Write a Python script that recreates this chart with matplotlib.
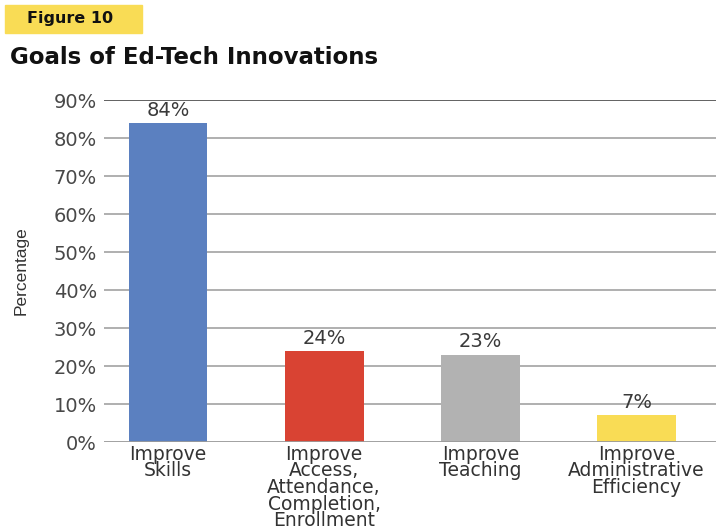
import numpy as np
import matplotlib.pyplot as plt
from matplotlib import rcParams
import matplotlib.patches as mpatches

rcParams['font.family'] = ['DejaVu Sans']

categories = ['Improve\nSkills', 'Improve\nAccess,\nAttendance,\nCompletion,\nEnrollment',
              'Improve\nTeaching', 'Improve\nAdministrative\nEfficiency']
values = [84, 24, 23, 7]
colors = ['#5B80C0', '#D94333', '#B2B2B2', '#F9DC55']
yticks = np.arange(0, 100, 10)

fig = plt.figure(figsize=(7.16, 5.31), dpi=100)
ax = fig.add_axes([104/716, 1-442/531, 1-104/716, (442-100)/531])

x = np.arange(len(values))
ax.bar(x, values, width=0.505, color=colors, zorder=3)
for xi, v in zip(x, values):
    ax.text(xi, v + 1.9, f'{v}%', ha='center', va='baseline', fontsize=14, color='#3a3a3a')

ax.set_xlim(-0.41, 3.51)
ax.set_ylim(0, 90)
ax.set_yticks(yticks)
ax.set_yticklabels([f'{t}%' for t in yticks], fontsize=14, color='#484848')
ax.set_xticks(x)
ax.set_xticklabels(categories, fontsize=13.5, color='#333333', linespacing=0.84)
ax.tick_params(axis='both', length=0)
ax.tick_params(axis='y', pad=5)
ax.tick_params(axis='x', pad=2)

for t in yticks:
    c = '#555555' if t == 90 else '#9a9a9a'
    ax.axhline(t, color=c, lw=1.3 if t in (0, 90) else 1.1, zorder=1 if t else 4)
for s in ax.spines.values():
    s.set_visible(False)

ax.set_ylabel('Percentage', fontsize=12.5, color='#333333',
              family='Liberation Sans', labelpad=18)

# header
fig.patches.append(mpatches.Rectangle((5/716, 1-33/531), 137/716, 28/531,
                                      transform=fig.transFigure, color='#F9DC55', zorder=0))
fig.text(27/716, 1-19/531, 'Figure 10', fontsize=11.5, fontweight='bold', va='center', color='#111111')
fig.text(10/716, 1-57.5/531, 'Goals of Ed-Tech Innovations', fontsize=16.5, fontweight='bold',
         va='center', color='#111111')

plt.savefig('out.png', dpi=100)
